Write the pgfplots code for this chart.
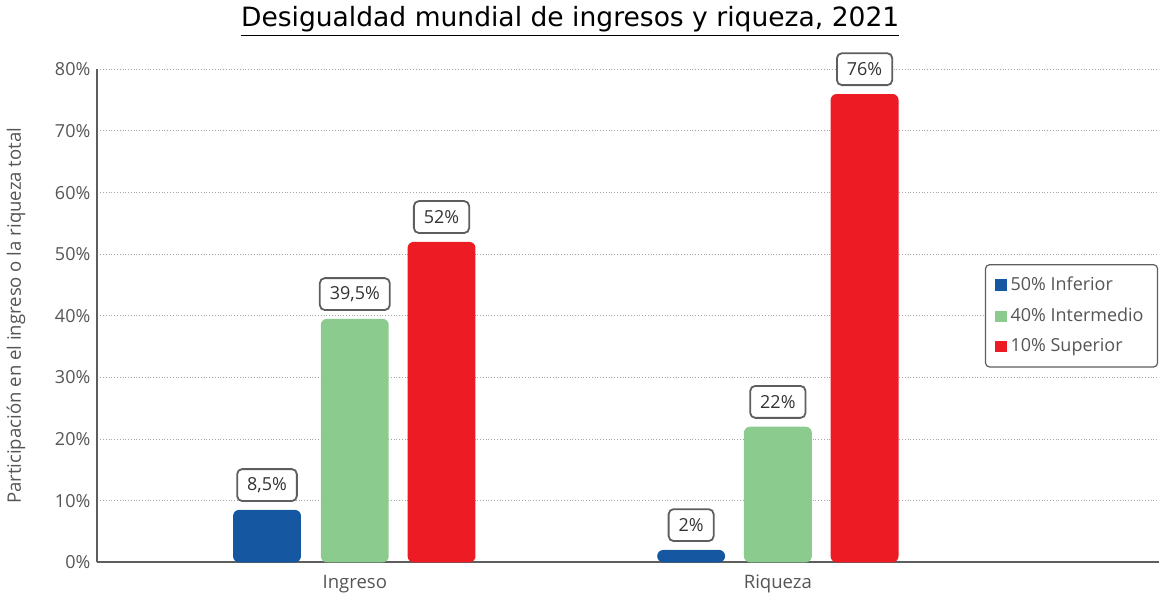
\documentclass[border=0pt]{standalone}
\usepackage{fontspec}
\setmainfont{Open Sans}
\newfontfamily\titlefont{DejaVu Sans}
\usepackage{pgfplots}
\pgfplotsset{compat=1.18}
\definecolor{cblue}{HTML}{1557A0}
\definecolor{cgreen}{HTML}{8BCB8E}
\definecolor{cred}{HTML}{ED1C24}
\definecolor{ctext}{HTML}{555555}
\definecolor{caxis}{HTML}{5E5E5E}
\begin{document}
\begin{tikzpicture}
\begin{axis}[
  scale only axis,
  width=532pt, height=247pt,
  xmin=-0.6085, xmax=1.9009,
  ymin=0, ymax=80,
  axis x line=bottom, axis y line=left,
  axis line style={draw=caxis, line width=1pt, -},
  xtick={0,1}, xticklabels={Ingreso,Riqueza},
  ytick={0,10,...,80},
  yticklabel={\pgfmathprintnumber{\tick}\%},
  /pgf/number format/assume math mode=true,
  major tick length=0pt,
  tick label style={font=\fontsize{9}{10}\selectfont, text=ctext},
  xticklabel style={font=\fontsize{9.3}{10}\selectfont, yshift=-3pt},
  ymajorgrids,
  grid style={draw=gray!70, densely dotted, line width=0.5pt},
  ylabel={Participación en el ingreso o la riqueza total},
  ylabel style={font=\fontsize{9.3}{10}\selectfont, text=ctext, yshift=8pt},
  clip=false,
  ybar, bar width=34pt,
  bar shift=0pt,
  nodes near coords,
  point meta=explicit symbolic,
  every node near coord/.append style={
    anchor=south, yshift=4pt,
    draw=caxis, line width=0.9pt, rounded corners=2.5pt, fill=white,
    font=\fontsize{9}{10}\selectfont, text=black!80,
    minimum height=16pt, inner xsep=5pt},
  legend style={at={(rel axis cs:0.9992,0.5)}, anchor=east,
    draw=caxis, rounded corners=2pt, line width=0.6pt,
    font=\fontsize{9}{10}\selectfont, text=ctext,
    row sep=3.2pt, inner xsep=5pt, inner ysep=4pt},
  legend cell align=left,
  legend image code/.code={\fill[#1, sharp corners] (0pt,-2.8pt) rectangle (5.6pt,2.8pt);},
]
\addplot[fill=cblue, draw=none, rounded corners=3pt] coordinates {(-0.2075,8.5) [8,5\%] (0.795,2) [2\%]};
\addlegendentry{50\% Inferior}
\addplot[fill=cgreen, draw=none, rounded corners=3pt] coordinates {(0,39.5) [39,5\%] (1,22) [22\%]};
\addlegendentry{40\% Intermedio}
\addplot[fill=cred, draw=none, rounded corners=3pt] coordinates {(0.205,52) [52\%] (1.205,76) [76\%]};
\addlegendentry{10\% Superior}
\node[font=\titlefont\fontsize{13.3}{15}\selectfont, text=black] at (axis cs:0.509,80) [yshift=24pt] {\underline{Desigualdad mundial de ingresos y riqueza, 2021}};
\path (rel axis cs:0,0) ++(-48pt,-17pt) rectangle ++(580pt,298pt);
\end{axis}
\end{tikzpicture}
\end{document}
